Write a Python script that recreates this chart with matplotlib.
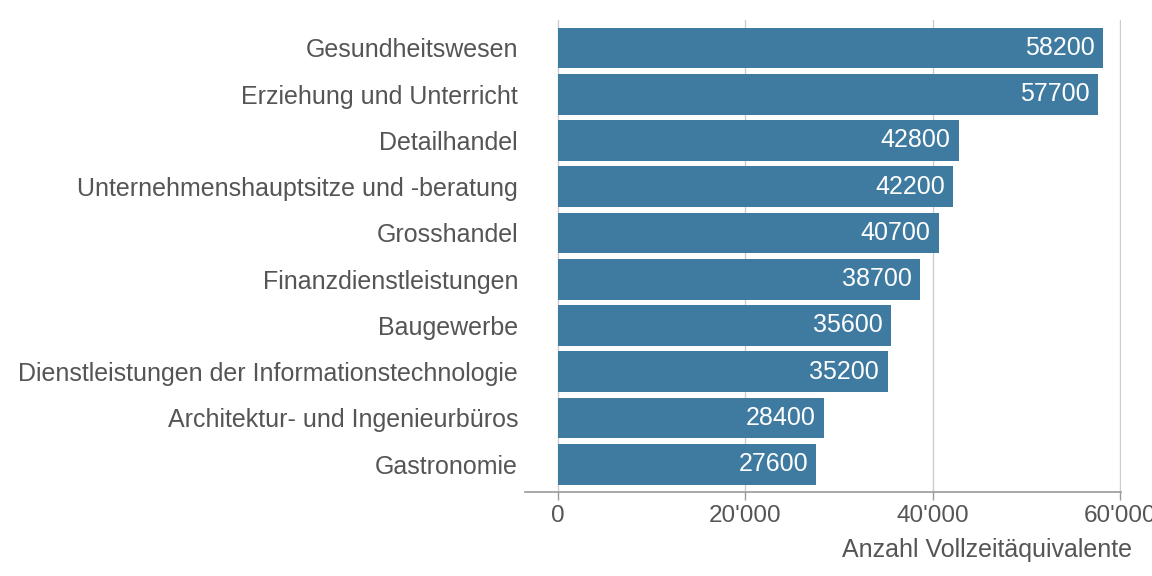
import matplotlib.pyplot as plt
from matplotlib.ticker import FuncFormatter

plt.rcParams['font.family'] = ['Liberation Sans', 'DejaVu Sans']

# Data
branchen = [
    "Gesundheitswesen",
    "Erziehung und Unterricht",
    "Detailhandel",
    "Unternehmenshauptsitze und -beratung",
    "Grosshandel",
    "Finanzdienstleistungen",
    "Baugewerbe",
    "Dienstleistungen der Informationstechnologie",
    "Architektur- und Ingenieurbüros",
    "Gastronomie",
]
vollzeit = [58200, 57700, 42800, 42200, 40700, 38700, 35600, 35200, 28400, 27600]

bar_color = "#3f7aa0"
text_grey = "#555555"

fig = plt.figure(figsize=(11.52, 5.76), dpi=100)
ax = fig.add_axes([0.4557, 0.146, 0.5173, 0.819])

pos = list(range(len(branchen)))
ax.barh(pos, vollzeit, height=0.88, color=bar_color, zorder=2)

# value labels inside the bar ends
for p, v in zip(pos, vollzeit):
    ax.text(v - 900, p, str(v), ha="right", va="center",
            color="white", fontsize=18, zorder=3)

ax.set_yticks(pos)
ax.set_yticklabels(branchen, fontsize=18, color=text_grey)
ax.set_ylim(9.6, -0.6)
ax.set_xlim(-3500, 60100)

ax.set_xticks([0, 20000, 40000, 60000])
ax.xaxis.set_major_formatter(FuncFormatter(lambda x, _: f"{int(x):,}".replace(",", "'")))
ax.tick_params(axis="x", labelsize=17.5, labelcolor=text_grey, color="#999999",
               length=6, width=1)
ax.tick_params(axis="y", length=0, pad=5)
ax.grid(axis="x", color="#cccccc", linewidth=1, zorder=0)

for side in ["top", "right", "left"]:
    ax.spines[side].set_visible(False)
ax.spines["bottom"].set_color("#999999")
ax.spines["bottom"].set_linewidth(1.2)

ax.set_xlabel("Anzahl Vollzeitäquivalente", fontsize=18, color=text_grey)
ax.xaxis.set_label_coords(1.018, -0.098)
ax.xaxis.label.set_horizontalalignment("right")

fig.savefig("out.png", dpi=100)
